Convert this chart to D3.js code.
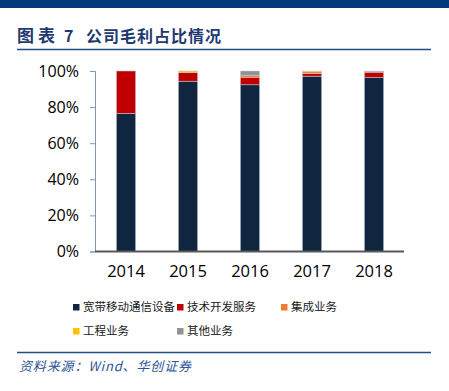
<!DOCTYPE html>
<html><head><meta charset="utf-8">
<script src="https://cdn.jsdelivr.net/npm/d3@7"></script>
<style>body{margin:0;background:#fff;}svg{display:block;}</style>
</head><body>
<svg id="c" width="449" height="391"></svg>
<script>
const years = ["2014","2015","2016","2017","2018"];
const seriesNames = ["宽带移动通信设备","技术开发服务","集成业务","工程业务","其他业务"];
const broadband = [76.5, 94.3, 92.4, 97.1, 96.4];
const techDev   = [23.5, 4.9, 4.1, 1.5, 2.9];
const integ     = [0, 0.1, 1.1, 1.0, 0.4];
const engin     = [0, 0.7, 0, 0.4, 0];
const other     = [0, 0, 2.4, 0, 0.3];
const colors = ["#0f2540","#c00000","#ed7d31","#ffc000","#929292"];
const yTicks = [0,20,40,60,80,100];

const svg = d3.select("#c");
const font = "'Open Sans','Noto Sans CJK SC',sans-serif";
const cjk = "'Noto Sans CJK SC',sans-serif";

// header band
svg.append("rect").attr("x",0).attr("y",0).attr("width",449).attr("height",8).attr("fill","#003a7c");
svg.append("text").attr("x",17).attr("y",42).attr("fill","#1f3a70")
  .attr("font-family",cjk).attr("font-weight","bold").attr("font-size",17)
  .attr("letter-spacing",4)
  .text("图表");
svg.append("text").attr("x",64).attr("y",42).attr("fill","#1f3a70")
  .attr("font-family",cjk).attr("font-weight","bold").attr("font-size",16)
  .text("7");
svg.append("text").attr("x",86).attr("y",42).attr("fill","#1f3a70")
  .attr("font-family",cjk).attr("font-weight","bold").attr("font-size",16)
  .attr("textLength",135).attr("lengthAdjust","spacing")
  .text("公司毛利占比情况");
svg.append("line").attr("x1",17).attr("x2",431).attr("y1",49.5).attr("y2",49.5)
  .attr("stroke","#1f4e8c").attr("stroke-width",1.6);

// scales
const x = d3.scaleBand().domain(years).range([95,405]).paddingInner(0.69).paddingOuter(0.345);
const y = d3.scaleLinear().domain([0,100]).range([251.5,71]);

const data = years.map((yr,i)=>({year:yr, s0:broadband[i], s1:techDev[i], s2:integ[i], s3:engin[i], s4:other[i]}));
const keys = ["s0","s1","s2","s3","s4"];
const stack = d3.stack().keys(keys)(data);

svg.append("g").selectAll("g").data(stack).join("g").attr("fill",(d,i)=>colors[i])
  .selectAll("rect").data(d=>d).join("rect")
  .attr("x",d=>x(d.data.year)).attr("width",x.bandwidth())
  .attr("y",d=>y(d[1])).attr("height",d=>Math.max(0,y(d[0])-y(d[1])))
  .attr("stroke",d=>(d[1]-d[0])>0?"rgba(200,208,220,0.6)":"none").attr("stroke-width",0.8);

// y axis
const yAxis = d3.axisLeft(y).tickValues(yTicks).tickFormat(d=>d+"%").tickSize(5).tickPadding(11);
const gy = svg.append("g").attr("transform","translate(95,0)").call(yAxis);
gy.select(".domain").attr("stroke","#8497b0").attr("stroke-width",1);
gy.selectAll(".tick line").attr("stroke","#8497b0");
gy.selectAll("text").attr("font-family",font).attr("font-size",16).attr("fill","#000");

// x axis
const xAxis = d3.axisBottom(x).tickSize(0).tickPadding(14);
const gx = svg.append("g").attr("transform","translate(0,251.5)").call(xAxis);
gx.select(".domain").attr("stroke","#595959").attr("stroke-width",2).attr("d","M95,0H404");
gx.selectAll("text").attr("font-family",font).attr("font-size",16.5).attr("fill","#000");

// legend
const legPos = [[73,307],[177,307],[281,307],[73,331],[177,331]];
const lg = svg.append("g");
seriesNames.forEach((n,i)=>{
  const [lx,ly] = legPos[i];
  lg.append("rect").attr("x",lx).attr("y",ly-3).attr("width",6.5).attr("height",6.5).attr("fill",colors[i]);
  lg.append("text").attr("x",lx+10).attr("y",ly+4).attr("font-family",cjk)
    .attr("font-size",11.5).attr("fill","#1a1a1a").text(n);
});

// footer
svg.append("line").attr("x1",17).attr("x2",431).attr("y1",352.5).attr("y2",352.5)
  .attr("stroke","#1f4e8c").attr("stroke-width",1.6);
svg.append("text").attr("x",19).attr("y",371).attr("fill","#2e5597")
  .attr("font-family",cjk).attr("font-style","italic").attr("font-size",13)
  .attr("textLength",172).attr("lengthAdjust","spacing")
  .text("资料来源：Wind、华创证券");
</script>
</body></html>
